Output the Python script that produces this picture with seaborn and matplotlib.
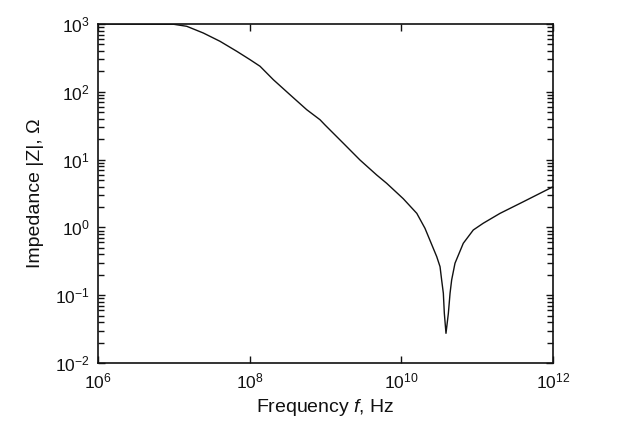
import matplotlib
matplotlib.use("Agg")
import matplotlib.pyplot as plt
import matplotlib.ticker as mticker
import seaborn as sns
import pandas as pd

# Values
freq_hz = [1.0e6, 1.0e7, 1.48e7, 2.45e7, 4.06e7, 6.75e7, 1.01e8, 1.37e8,
           2.05e8, 3.40e8, 5.65e8, 8.47e8, 9.86e8, 1.72e9, 2.85e9, 4.73e9,
           6.41e9, 1.06e10, 1.60e10, 2.05e10, 2.93e10, 3.24e10, 3.40e10,
           3.58e10, 3.69e10, 3.88e10,
           4.17e10, 4.39e10, 4.61e10, 5.10e10, 6.56e10, 8.89e10, 1.20e11,
           2.0e11, 4.06e11, 9.14e11, 1.0e12]
impedance_ohm = [1000, 990, 925, 736, 556, 396, 298, 238,
                 151, 90.6, 54.5, 38.7, 32.4, 17.4, 9.86, 5.93,
                 4.47, 2.65, 1.61, 0.97, 0.37, 0.263, 0.168,
                 0.107, 0.054, 0.0274,
                 0.054, 0.107, 0.168, 0.296, 0.583, 0.916, 1.15,
                 1.61, 2.39, 3.78, 3.98]
x_ticks = [1e6, 1e8, 1e10, 1e12]
y_ticks = [1e-2, 1e-1, 1e0, 1e1, 1e2, 1e3]

sns.set_theme(style="white")
plt.rcParams["font.family"] = ["Liberation Sans", "DejaVu Sans"]
plt.rcParams["mathtext.fontset"] = "custom"
plt.rcParams["mathtext.rm"] = "Liberation Sans"
plt.rcParams["mathtext.it"] = "Liberation Sans:italic"
plt.rcParams["mathtext.bf"] = "Liberation Sans:bold"

df = pd.DataFrame({"f": freq_hz, "Z": impedance_ohm})

fig = plt.figure(figsize=(6.19, 4.29), dpi=100)
ax = fig.add_axes([98 / 619, 1 - 363 / 429, 455 / 619, 339 / 429])
sns.lineplot(data=df, x="f", y="Z", ax=ax, color="#111111", linewidth=1.0,
             estimator=None, sort=False, legend=False)
ax.set_xscale("log")
ax.set_yscale("log")
ax.set_xlim(1e6, 1e12)
ax.set_ylim(1e-2, 1e3)

minor_y = [d * k for d in y_ticks[:-1] for k in range(2, 10)]
ax.xaxis.set_major_locator(mticker.FixedLocator(x_ticks))
ax.xaxis.set_minor_locator(mticker.NullLocator())
ax.yaxis.set_major_locator(mticker.FixedLocator(y_ticks))
ax.yaxis.set_minor_locator(mticker.FixedLocator(minor_y))
ax.xaxis.set_major_formatter(mticker.LogFormatterSciNotation())
ax.yaxis.set_major_formatter(mticker.LogFormatterSciNotation())
ax.yaxis.set_minor_formatter(mticker.NullFormatter())

ax.tick_params(which="both", direction="in", top=True, right=True,
               bottom=True, left=True, colors="#111111")
ax.tick_params(which="major", length=5, width=1.0, labelsize=12.5, pad=6)
ax.tick_params(axis="y", which="minor", length=4, width=1.0)
for s in ax.spines.values():
    s.set_color("#111111")
    s.set_linewidth(1.2)

ax.set_xlabel("Frequency $\\it{f}$, Hz", fontsize=14, color="#111111", labelpad=4)
ax.set_ylabel("Impedance |Z|, Ω", fontsize=14, color="#111111", labelpad=8)

fig.savefig("out.png", dpi=100, facecolor="white")
